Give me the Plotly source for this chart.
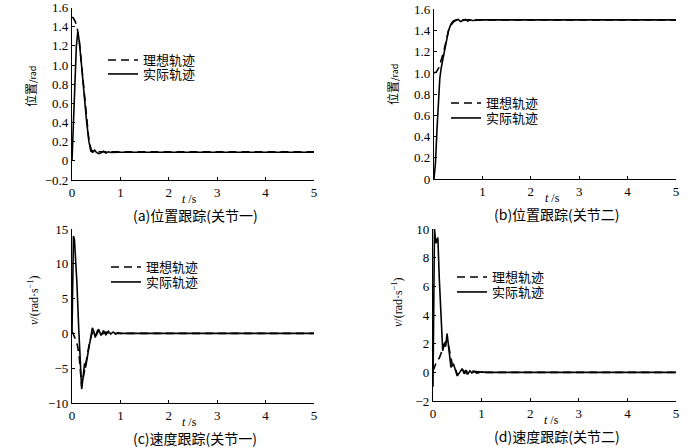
import plotly.graph_objects as go

# ---------------- data ----------------
# (a) position tracking, joint 1
ta_ideal = [0, 0.03, 0.06, 0.1, 0.15, 0.2, 0.25, 0.3, 0.35, 0.4, 0.45, 0.5, 0.6, 0.8, 1.0, 2.0, 3.0, 4.0, 5.0]
pa_ideal = [1.5, 1.49, 1.46, 1.41, 1.25, 0.98, 0.68, 0.42, 0.21, 0.11, 0.1, 0.095, 0.095, 0.095, 0.095, 0.095, 0.095, 0.095, 0.095]
ta_real = [0, 0.03, 0.06, 0.09, 0.12, 0.15, 0.2, 0.25, 0.3, 0.35, 0.39, 0.43, 0.47, 0.5, 0.55, 0.6, 0.65, 0.7, 0.75, 0.8, 1.0, 2.0, 3.0, 4.0, 5.0]
pa_real = [0, 0.4, 0.85, 1.2, 1.345, 1.25, 0.98, 0.68, 0.42, 0.2, 0.1, 0.09, 0.11, 0.09, 0.075, 0.085, 0.1, 0.082, 0.095, 0.088, 0.09, 0.09, 0.09, 0.09, 0.09]

# (b) position tracking, joint 2
tb_ideal = [0, 0.05, 0.1, 0.15, 0.2, 0.25, 0.3, 0.35, 0.4, 0.45, 0.5, 1.0, 2.0, 3.0, 4.0, 5.0]
pb_ideal = [1.0, 1.01, 1.05, 1.12, 1.2, 1.3, 1.4, 1.45, 1.48, 1.495, 1.5, 1.5, 1.5, 1.5, 1.5, 1.5]
tb_real = [0, 0.03, 0.06, 0.09, 0.12, 0.15, 0.2, 0.25, 0.3, 0.35, 0.4, 0.45, 0.5, 0.55, 0.6, 0.65, 0.7, 0.75, 0.8, 0.9, 1.0, 2.0, 3.0, 4.0, 5.0]
pb_real = [0, 0.15, 0.45, 0.7, 0.95, 1.05, 1.17, 1.28, 1.4, 1.46, 1.49, 1.5, 1.505, 1.485, 1.495, 1.505, 1.488, 1.5, 1.495, 1.5, 1.5, 1.5, 1.5, 1.5, 1.5]

# (c) velocity tracking, joint 1
tc_ideal = [0, 0.05, 0.09, 0.12, 0.15, 0.2, 0.25, 0.3, 0.35, 0.4, 0.45, 0.5, 0.55, 0.6, 0.7, 0.8, 1.0, 2.0, 3.0, 4.0, 5.0]
vc_ideal = [0.3, -0.4, -1.1, -2.0, -3.4, -7.6, -5.5, -3.6, -1.8, -0.3, 0.4, -0.3, 0.4, -0.2, 0.2, 0.0, 0.0, 0.0, 0.0, 0.0, 0.0]
tc_real = [0, 0.03, 0.05, 0.07, 0.1, 0.14, 0.18, 0.2, 0.23, 0.26, 0.28, 0.31, 0.35, 0.39, 0.42, 0.45, 0.48, 0.52, 0.55, 0.6, 0.65, 0.7, 0.75, 0.8, 0.85, 0.9, 0.95, 1.0, 2.0, 3.0, 4.0, 5.0]
vc_real = [0, 14.0, 13.5, 11.5, 7.5, 0.5, -6.0, -8.0, -6.3, -4.3, -4.9, -3.4, -2.0, -0.5, 0.8, 0.3, -0.6, 0.3, 0.6, -0.3, 0.4, -0.2, 0.3, -0.1, 0.2, -0.1, 0.1, 0.0, 0.0, 0.0, 0.0, 0.0]

# (d) velocity tracking, joint 2
td_ideal = [0, 0.04, 0.08, 0.13, 0.2, 0.25, 0.3, 0.35, 0.4, 0.45, 0.5, 0.55, 0.6, 0.7, 0.8, 1.0, 2.0, 3.0, 4.0, 5.0]
vd_ideal = [0.1, 0.4, 0.8, 1.0, 1.7, 2.1, 2.2, 1.2, 0.5, 0.4, -0.2, 0.1, 0.2, -0.1, 0.1, 0.0, 0.0, 0.0, 0.0, 0.0]
td_real = [0, 0.03, 0.06, 0.1, 0.13, 0.17, 0.2, 0.23, 0.26, 0.29, 0.33, 0.37, 0.42, 0.46, 0.5, 0.55, 0.6, 0.64, 0.68, 0.72, 0.76, 0.8, 0.85, 0.9, 1.0, 1.1, 1.2, 2.0, 3.0, 4.0, 5.0]
vd_real = [-1.0, 10.0, 9.0, 9.4, 6.5, 3.0, 1.5, 2.0, 1.8, 2.7, 1.6, 0.35, 0.6, 0.1, -0.25, 0.0, 0.25, -0.1, 0.15, -0.1, 0.1, -0.05, 0.05, -0.05, 0.03, 0.0, 0.0, 0.0, 0.0, 0.0, 0.0]

x_ticks = [0, 1, 2, 3, 4, 5]
x_ticktext = ["0", "1", "2", "3", "4", "5"]
x_ticktext_b = ["", "1", "2", "3", "4", "5"]
ya_ticks = [-0.2, 0, 0.2, 0.4, 0.6, 0.8, 1.0, 1.2, 1.4, 1.6]
ya_text = ["\u22120.2", "0", "0.2", "0.4", "0.6", "0.8", "1.0", "1.2", "1.4", "1.6"]
yb_ticks = [0, 0.2, 0.4, 0.6, 0.8, 1.0, 1.2, 1.4, 1.6]
yb_text = ["0", "0.2", "0.4", "0.6", "0.8", "1.0", "1.2", "1.4", "1.6"]
yc_ticks = [-10, -5, 0, 5, 10, 15]
yc_text = ["\u221210", "\u22125", "0", "5", "10", "15"]
yd_ticks = [-2, 0, 2, 4, 6, 8, 10]
yd_text = ["\u22122", "0", "2", "4", "6", "8", "10"]

name_ideal = "理想轨迹"
name_real = "实际轨迹"
captions = ["(a)位置跟踪(关节一)", "(b)位置跟踪(关节二)", "(c)速度跟踪(关节一)", "(d)速度跟踪(关节二)"]

# ---------------- figure ----------------
W, H = 700, 448
SERIF = "Liberation Serif, Times New Roman, serif"
CJK = "Noto Sans CJK SC, Liberation Serif, serif"

def px(x):
    return x / W

def py(y):
    return 1 - y / H

fig = go.Figure()

panels = [
    dict(dom=(72, 314, 7.5, 180), t1=ta_ideal, y1=pa_ideal, t2=ta_real, y2=pa_real,
         yr=[-0.2, 1.6], yt=ya_ticks, ytt=ya_text, xtt=x_ticktext, leg=(103, 60, 74)),
    dict(dom=(434, 676, 9.3, 179), t1=tb_ideal, y1=pb_ideal, t2=tb_real, y2=pb_real,
         yr=[0, 1.6], yt=yb_ticks, ytt=yb_text, xtt=x_ticktext_b, leg=(446, 103, 118)),
    dict(dom=(72, 314, 229, 403), t1=tc_ideal, y1=vc_ideal, t2=tc_real, y2=vc_real,
         yr=[-10, 15], yt=yc_ticks, ytt=yc_text, xtt=x_ticktext, leg=(106, 267, 282)),
    dict(dom=(433, 676, 229, 401), t1=td_ideal, y1=vd_ideal, t2=td_real, y2=vd_real,
         yr=[-2, 10], yt=yd_ticks, ytt=yd_text, xtt=x_ticktext, leg=(452, 277, 292)),
]

annotations = []
lg_n = 0
for i, p in enumerate(panels):
    k = i + 1
    xa = "x" if k == 1 else f"x{k}"
    ya = "y" if k == 1 else f"y{k}"
    lgx, lgy1, lgy2 = p["leg"]
    names = []
    for (nm, tt, yy, dash, ly) in [(name_ideal, p["t1"], p["y1"], "8px,5px", lgy1),
                                   (name_real, p["t2"], p["y2"], "solid", lgy2)]:
        lg_n += 1
        lg = "legend" if lg_n == 1 else f"legend{lg_n}"
        fig.add_trace(go.Scatter(x=tt, y=yy, mode="lines", name=nm,
                                 line=dict(color="black", width=1.6, dash=dash),
                                 xaxis=xa, yaxis=ya, legend=lg))
        fig.update_layout(**{lg: dict(x=px(lgx), y=py(ly), xanchor="left", yanchor="middle",
                                      bgcolor="rgba(0,0,0,0)", borderwidth=0, itemwidth=30,
                                      font=dict(family=CJK, size=13, color="black"))})
    x0, x1, yt0, yb0 = p["dom"]
    axis_common = dict(showline=True, linecolor="black", linewidth=1.2, ticks="inside",
                       ticklen=3, tickcolor="black", showgrid=False, zeroline=False,
                       automargin=False,
                       tickfont=dict(family=SERIF, size=13, color="black"))
    xname = "xaxis" if k == 1 else f"xaxis{k}"
    yname = "yaxis" if k == 1 else f"yaxis{k}"
    fig.update_layout(**{
        xname: dict(domain=[px(x0), px(x1)], range=[0, 5], tickmode="array",
                    tickvals=x_ticks, ticktext=p["xtt"], anchor=ya, **axis_common),
        yname: dict(domain=[py(yb0), py(yt0)], range=p["yr"], tickmode="array",
                    tickvals=p["yt"], ticktext=p["ytt"], anchor=xa, **axis_common),
    })
    cx = (x0 + x1) / 2
    annotations.append(dict(text="<i>t</i> /s", x=px(cx - 3), y=py(yb0 + 19), xref="paper", yref="paper",
                            xanchor="center", yanchor="middle",
                            showarrow=False, font=dict(family=SERIF, size=12, color="black")))
    annotations.append(dict(text=captions[i], x=px(cx + 2), y=py(yb0 + 35), xref="paper", yref="paper",
                            xanchor="center", yanchor="middle",
                            showarrow=False, font=dict(family=CJK, size=14, color="black")))

# y-axis titles
for (tx, xx, yy, fam, fs) in [
    ("位置<span style='font-size:9px'>/rad</span>", 30, 87, CJK, 12),
    ("位置<span style='font-size:9px'>/rad</span>", 393, 85, CJK, 12),
    ("<i>v</i>/(rad·s<sup>\u22121</sup>)", 33, 300, SERIF, 12),
    ("<i>v</i>/(rad·s<sup>\u22121</sup>)", 397, 302, SERIF, 12),
]:
    annotations.append(dict(text=tx, x=px(xx), y=py(yy), xref="paper", yref="paper",
                            xanchor="center", yanchor="middle", showarrow=False, textangle=-90,
                            font=dict(family=fam, size=fs, color="black")))

fig.update_layout(width=W, height=H, margin=dict(l=0, r=0, t=0, b=0, autoexpand=False),
                  paper_bgcolor="white", plot_bgcolor="white",
                  showlegend=True, annotations=annotations)

fig.write_html("out.html", config={"displayModeBar": False},
               post_script="document.body.style.margin='0px';")
